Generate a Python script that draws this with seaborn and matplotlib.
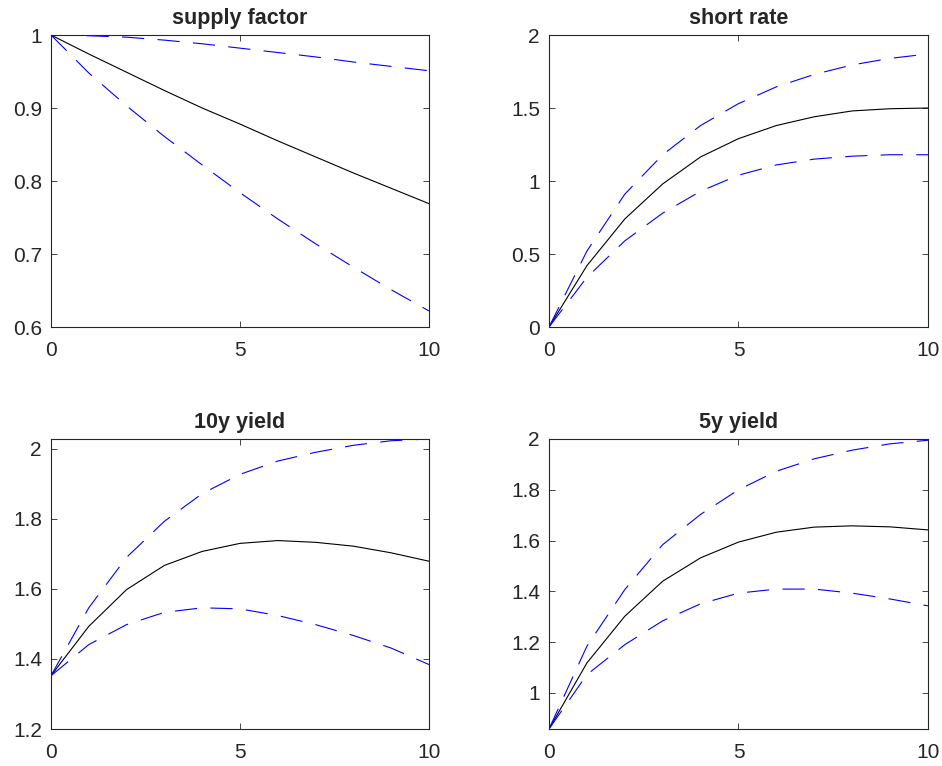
"""
Impulse responses with error bands, 2x2 panels.
"""
import matplotlib
matplotlib.use("Agg")
import matplotlib.pyplot as plt
import matplotlib.ticker as mticker
import seaborn as sns

steps = [0, 1, 2, 3, 4, 5, 6, 7, 8, 9, 10]

titles = ['supply factor', 'short rate', '10y yield', '5y yield']

# supply factor
supply_mid = [1.0, 0.974, 0.949, 0.924, 0.900, 0.878, 0.855, 0.833, 0.811, 0.790, 0.769]
supply_hi = [1.0, 0.999, 0.997, 0.993, 0.988, 0.982, 0.976, 0.970, 0.963, 0.957, 0.951]
supply_lo = [1.0, 0.948, 0.903, 0.861, 0.822, 0.784, 0.748, 0.714, 0.682, 0.651, 0.622]

# short rate
short_mid = [0.0, 0.42, 0.74, 0.98, 1.165, 1.29, 1.38, 1.44, 1.48, 1.495, 1.50]
short_hi = [0.0, 0.52, 0.91, 1.18, 1.38, 1.53, 1.645, 1.73, 1.795, 1.84, 1.87]
short_lo = [0.0, 0.34, 0.59, 0.78, 0.93, 1.04, 1.11, 1.15, 1.17, 1.18, 1.18]

# 10y yield
y10_mid = [1.352, 1.493, 1.598, 1.667, 1.707, 1.730, 1.738, 1.733, 1.722, 1.703, 1.679]
y10_hi = [1.352, 1.546, 1.690, 1.793, 1.872, 1.927, 1.965, 1.990, 2.010, 2.023, 2.028]
y10_lo = [1.352, 1.441, 1.498, 1.533, 1.546, 1.543, 1.524, 1.498, 1.467, 1.431, 1.384]

# 5y yield
y5_mid = [0.858, 1.118, 1.302, 1.440, 1.532, 1.594, 1.633, 1.653, 1.658, 1.654, 1.642]
y5_hi = [0.858, 1.184, 1.407, 1.584, 1.703, 1.800, 1.873, 1.922, 1.956, 1.981, 1.995]
y5_lo = [0.858, 1.072, 1.190, 1.284, 1.351, 1.393, 1.409, 1.409, 1.393, 1.370, 1.343]

yticks = [
    [0.6, 0.7, 0.8, 0.9, 1.0],
    [0, 0.5, 1.0, 1.5, 2.0],
    [1.2, 1.4, 1.6, 1.8, 2.0],
    [1.0, 1.2, 1.4, 1.6, 1.8, 2.0],
]
ylims = [(0.6, 1.0), (0, 2.0), (1.2, 2.028), (0.858, 2.0)]

panels = [
    (supply_mid, supply_hi, supply_lo),
    (short_mid, short_hi, short_lo),
    (y10_mid, y10_hi, y10_lo),
    (y5_mid, y5_hi, y5_lo),
]

sns.set_style("white")
plt.rcParams['font.family'] = ['Liberation Sans', 'DejaVu Sans']

fig = plt.figure(figsize=(9.42, 7.66), dpi=100)
positions = [
    [0.0541, 0.5731, 0.4013, 0.3812],
    [0.5828, 0.5731, 0.4023, 0.3812],
    [0.0541, 0.0483, 0.4013, 0.3786],
    [0.5828, 0.0483, 0.4023, 0.3786],
]
axis_col = '#262626'
band_dash = (0, (20, 12))

for i, (mid, hi, lo) in enumerate(panels):
    ax = fig.add_axes(positions[i])
    sns.lineplot(x=steps, y=mid, ax=ax, color='black', linewidth=0.8)
    sns.lineplot(x=steps, y=hi, ax=ax, color='blue', linewidth=0.8,
                 linestyle=band_dash)
    sns.lineplot(x=steps, y=lo, ax=ax, color='blue', linewidth=0.8,
                 linestyle=band_dash)
    ax.set_xlim(0, 10)
    ax.set_ylim(*ylims[i])
    ax.set_xticks([0, 5, 10])
    ax.set_yticks(yticks[i])
    ax.xaxis.set_major_formatter(mticker.FormatStrFormatter('%g'))
    ax.yaxis.set_major_formatter(mticker.FormatStrFormatter('%g'))
    ax.tick_params(direction='in', length=4, width=0.6, colors=axis_col,
                   labelsize=15, top=True, right=True, bottom=True, left=True)
    ax.tick_params(axis='x', pad=10)
    ax.tick_params(axis='y', pad=6.5)
    for sp in ax.spines.values():
        sp.set_color(axis_col)
        sp.set_linewidth(0.8)
        sp.set_visible(True)
    ax.set_title(titles[i], fontsize=15.5, fontweight='bold', pad=8)

plt.savefig('out.png', dpi=100)
plt.close()
